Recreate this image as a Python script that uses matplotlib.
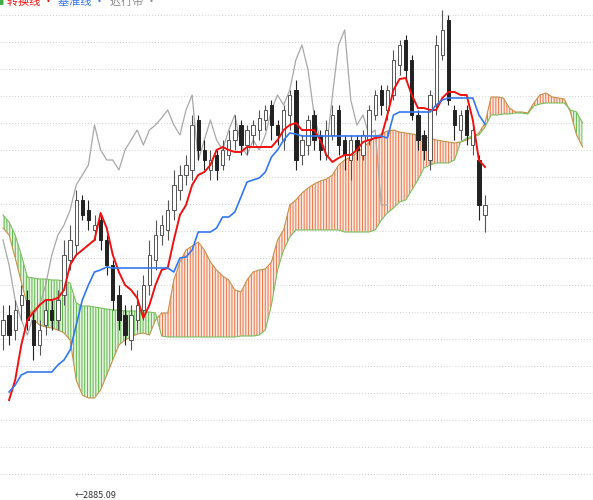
import numpy as np
import matplotlib
matplotlib.use('Agg')
import matplotlib.pyplot as plt

plt.rcParams['font.family'] = ['Noto Sans CJK SC', 'DejaVu Sans']
plt.rcParams['hatch.linewidth'] = 0.7

# candle data (price units)
opens = [165,185,170,195,200,180,155,175,190,180,205,240,255,300,290,270,280,260,235,205,
         185,160,180,190,215,240,265,270,290,310,325,330,380,350,330,345,335,345,360,375,
         355,365,370,380,395,375,360,385,410,345,355,385,365,345,365,390,360,340,360,345,
         360,385,410,390,405,435,460,440,385,365,340,395,445,480,390,370,390,355,340,285]
closes = [180,165,190,205,180,155,170,190,180,200,245,260,300,285,280,275,260,235,200,180,
          165,185,195,215,245,265,275,290,315,325,335,375,350,340,340,330,350,360,370,355,
          370,375,382,390,375,365,390,405,340,360,380,360,350,370,385,355,345,360,350,365,
          390,405,395,410,440,455,430,385,360,350,405,455,470,400,375,385,365,370,295,295]
highs = [195,195,200,215,210,190,180,200,200,210,260,275,310,305,300,285,285,265,240,215,
         195,195,210,225,260,280,285,300,330,335,345,385,385,360,350,350,360,370,385,380,
         375,380,390,395,400,380,395,410,420,365,385,390,370,380,395,395,365,365,365,370,
         395,410,415,415,450,460,465,445,390,370,410,465,490,485,395,390,395,375,345,305]
lows = [150,155,160,180,170,140,145,165,170,170,195,230,245,280,270,260,250,225,190,170,
        155,150,170,180,205,230,255,260,280,300,315,320,340,330,320,320,330,340,350,345,
        345,355,360,370,360,355,350,370,330,335,345,350,340,340,360,345,330,320,340,340,
        355,380,385,380,400,425,420,380,350,340,330,385,440,395,360,360,355,345,280,268]

# ichimoku lines (screen-read, pixel rows -> converted below)
tenkan_y = [np.nan,400,380,345,320,312,305,300,300,298,290,265,255,250,245,240,213,228,255,272,
            285,290,298,318,305,285,270,268,240,215,205,185,175,172,165,150,147,150,152,152,
            147,147,147,147,147,140,130,125,123,130,130,130,140,155,162,158,155,155,150,142,
            140,138,137,115,90,79,78,95,108,108,110,110,98,92,92,95,95,120,160,167]
kijun_y = [np.nan,392,385,375,372,372,372,372,372,365,360,350,325,300,285,272,270,267,268,268,
           268,268,268,268,268,268,268,268,272,258,257,250,232,232,232,228,217,217,212,197,
           182,180,178,172,157,150,140,133,134,136,136,136,136,136,136,136,136,136,136,136,
           136,136,136,138,115,112,112,112,112,112,112,105,100,98,98,98,98,98,115,124]
span_a_y = [228,235,258,282,305,320,325,327,328,330,333,340,380,395,398,398,390,375,360,345,
            340,337,334,333,335,320,313,313,280,262,250,246,242,250,262,270,276,280,290,292,
            280,272,270,269,262,240,230,205,200,193,188,184,181,179,175,165,160,157,153,148,
            142,137,134,131,130,132,133,134,135,137,138,140,141,142,143,142,140,137,133,123,
            97,97,98,108,112,112,113,103,95,93,97,98,99,112,135,147]
span_b_y = [215,222,235,255,277,278,279,279,280,280,281,283,303,306,306,307,308,309,310,310,
            311,311,311,312,312,313,336,337,337,337,337,337,337,337,337,337,337,337,337,336,
            336,336,335,330,305,270,250,237,230,230,230,230,230,230,230,230,232,232,232,232,
            232,230,220,213,208,202,200,190,180,168,165,163,163,163,160,142,138,136,135,127,
            115,115,114,114,113,113,114,106,104,103,103,103,103,110,112,123]
shift = 16  # displacement in bars

grid_levels = [485 - 27 * k for k in range(18)]

tenkan = 500 - np.array(tenkan_y, dtype=float)
kijun = 500 - np.array(kijun_y, dtype=float)
span_a = 500 - np.array(span_a_y, dtype=float)
span_b = 500 - np.array(span_b_y, dtype=float)

o = np.array(opens); c = np.array(closes)
h = np.maximum(np.array(highs), np.maximum(o, c))
l = np.minimum(np.array(lows), np.minimum(o, c))
x = np.arange(len(c))
xc = np.arange(len(span_a))

fig = plt.figure(figsize=(5.93, 5.0), dpi=100)
ax = fig.add_axes([0, 0, 1, 1])
ax.set_xlim(-0.49, 96.7)
ax.set_ylim(0, 500)
for g in grid_levels:
    ax.axhline(g, color='#d0d0d0', lw=0.7, ls=(0, (1, 2)), zorder=0)

# cloud
up = span_a >= span_b
ax.fill_between(xc, span_a, span_b, where=up, interpolate=True, facecolor='#fbe8de',
                edgecolor='#e8764a', hatch='||||||', lw=0, zorder=1)
ax.fill_between(xc, span_a, span_b, where=~up, interpolate=True, facecolor='#e6f4e0',
                edgecolor='#5cb848', hatch='||||||', lw=0, zorder=1)
ax.plot(xc, span_a, color='#c8904a', lw=0.8, zorder=2)
ax.plot(xc, span_b, color='#78c060', lw=0.8, zorder=2)

# lagging line
ax.plot(x[:-shift], c[shift:], color='#a8a8a8', lw=0.9, zorder=3)

# candles
w = 0.55
for i in x:
    down = c[i] < o[i]
    col = '#222222' if down else '#555555'
    ax.vlines(i, l[i], h[i], color=col, lw=0.8, zorder=4)
    ax.bar(i, abs(c[i] - o[i]) or 1, bottom=min(o[i], c[i]), width=w,
           color='#222222' if down else 'white', edgecolor=col, lw=0.7, zorder=5)

ax.plot(x, tenkan, color='#ee1111', lw=1.4, zorder=6)
ax.plot(x, kijun, color='#3377ee', lw=1.2, zorder=6)

ax.axis('off')

fig.text(0.0, 0.997, '▌', color='#44aa44', fontsize=5, va='center')
fig.text(0.012, 0.997, '转换线 ·', color='#ee1111', fontsize=8, va='center')
fig.text(0.098, 0.997, '基准线 ·', color='#3377ee', fontsize=8, va='center')
fig.text(0.185, 0.997, '迟行带 ·', color='#888888', fontsize=8, va='center')
ax.text(11.8, 5, '←2885.09', fontsize=6.5, color='#333333', va='center')

fig.savefig('out.png', dpi=100)
